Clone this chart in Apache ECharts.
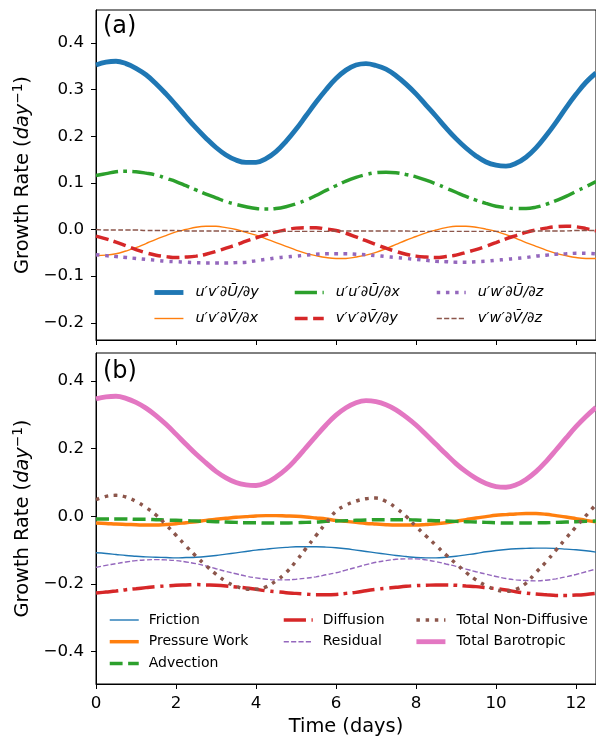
<!DOCTYPE html>
<html>
<head>
<meta charset="utf-8">
<script src="https://cdn.jsdelivr.net/npm/echarts@6/dist/echarts.min.js"></script>
<style>
html,body{margin:0;padding:0;background:#fff;}
#chart{width:596px;height:740px;}
</style>
</head>
<body>
<div id="chart"></div>
<script>
// ---------- data ----------
const times = [0,0.25,0.5,0.75,1,1.25,1.5,1.75,2,2.25,2.5,2.75,3,3.25,3.5,3.75,4,4.25,4.5,4.75,5,5.25,5.5,5.75,6,6.25,6.5,6.75,7,7.25,7.5,7.75,8,8.25,8.5,8.75,9,9.25,9.5,9.75,10,10.25,10.5,10.75,11,11.25,11.5,11.75,12,12.25,12.5];
const xTicks = [0,2,4,6,8,10,12];
const yTicksA = [-0.2,-0.1,0,0.1,0.2,0.3,0.4];
const yTicksB = [-0.4,-0.2,0,0.2,0.4];

// Panel (a)
const uvUy = [0.353,0.359,0.361,0.356,0.346,0.332,0.313,0.291,0.267,0.242,0.218,0.196,0.176,0.160,0.149,0.144,0.144,0.152,0.167,0.189,0.215,0.244,0.273,0.300,0.324,0.342,0.353,0.356,0.352,0.344,0.330,0.312,0.291,0.267,0.243,0.218,0.195,0.175,0.158,0.145,0.138,0.136,0.142,0.155,0.175,0.201,0.230,0.261,0.290,0.316,0.336];
const uvVx = [-0.056,-0.055,-0.052,-0.046,-0.039,-0.030,-0.021,-0.013,-0.005,0.000,0.005,0.007,0.007,0.004,0.000,-0.006,-0.012,-0.020,-0.028,-0.036,-0.044,-0.051,-0.056,-0.060,-0.062,-0.062,-0.059,-0.055,-0.049,-0.041,-0.032,-0.023,-0.015,-0.007,-0.001,0.004,0.007,0.007,0.005,0.001,-0.004,-0.011,-0.019,-0.028,-0.036,-0.044,-0.051,-0.056,-0.060,-0.062,-0.062];
const uuUx = [0.116,0.120,0.124,0.125,0.124,0.121,0.117,0.110,0.103,0.094,0.085,0.076,0.068,0.060,0.054,0.049,0.045,0.044,0.045,0.049,0.055,0.063,0.073,0.084,0.094,0.104,0.112,0.118,0.122,0.123,0.122,0.118,0.113,0.106,0.098,0.089,0.080,0.071,0.063,0.056,0.050,0.047,0.045,0.045,0.048,0.054,0.062,0.071,0.082,0.092,0.103];
const vvVy = [-0.014,-0.020,-0.027,-0.035,-0.043,-0.050,-0.055,-0.058,-0.060,-0.059,-0.057,-0.053,-0.047,-0.040,-0.033,-0.025,-0.018,-0.011,-0.005,-0.001,0.003,0.004,0.004,0.001,-0.002,-0.008,-0.016,-0.024,-0.032,-0.040,-0.047,-0.053,-0.057,-0.059,-0.060,-0.058,-0.055,-0.049,-0.043,-0.036,-0.028,-0.020,-0.013,-0.006,-0.001,0.003,0.006,0.007,0.006,0.002,-0.003];
const uwUz = [-0.054,-0.056,-0.058,-0.060,-0.062,-0.064,-0.066,-0.068,-0.069,-0.070,-0.071,-0.072,-0.072,-0.072,-0.071,-0.070,-0.067,-0.064,-0.061,-0.059,-0.057,-0.055,-0.053,-0.052,-0.052,-0.052,-0.053,-0.054,-0.056,-0.058,-0.060,-0.062,-0.064,-0.066,-0.068,-0.069,-0.070,-0.070,-0.069,-0.068,-0.066,-0.064,-0.062,-0.060,-0.057,-0.055,-0.053,-0.052,-0.051,-0.051,-0.052];
const vwVz = [0.000,-0.001,-0.001,-0.001,-0.001,-0.002,-0.002,-0.002,-0.002,-0.003,-0.003,-0.003,-0.003,-0.003,-0.004,-0.004,-0.004,-0.004,-0.004,-0.004,-0.004,-0.004,-0.004,-0.004,-0.003,-0.003,-0.003,-0.003,-0.003,-0.003,-0.003,-0.003,-0.004,-0.004,-0.004,-0.004,-0.004,-0.004,-0.004,-0.004,-0.004,-0.004,-0.004,-0.004,-0.003,-0.003,-0.003,-0.003,-0.002,-0.002,-0.002];

// Panel (b)
const friction = [-0.108,-0.110,-0.113,-0.116,-0.118,-0.120,-0.121,-0.122,-0.123,-0.122,-0.121,-0.119,-0.116,-0.112,-0.108,-0.104,-0.100,-0.097,-0.094,-0.092,-0.090,-0.090,-0.090,-0.091,-0.093,-0.096,-0.100,-0.104,-0.108,-0.112,-0.116,-0.119,-0.122,-0.123,-0.123,-0.121,-0.118,-0.114,-0.110,-0.105,-0.101,-0.098,-0.096,-0.095,-0.094,-0.094,-0.095,-0.097,-0.099,-0.102,-0.106];
const pressure = [-0.020,-0.021,-0.023,-0.024,-0.025,-0.026,-0.026,-0.024,-0.022,-0.019,-0.016,-0.012,-0.009,-0.006,-0.003,-0.001,0.001,0.002,0.002,0.001,0.000,-0.002,-0.005,-0.008,-0.012,-0.015,-0.018,-0.021,-0.023,-0.025,-0.026,-0.026,-0.026,-0.024,-0.022,-0.019,-0.015,-0.010,-0.005,-0.001,0.003,0.005,0.007,0.008,0.008,0.006,0.002,-0.002,-0.007,-0.012,-0.016];
const advection = [-0.008,-0.008,-0.008,-0.008,-0.009,-0.009,-0.010,-0.011,-0.012,-0.013,-0.014,-0.015,-0.016,-0.017,-0.018,-0.019,-0.019,-0.020,-0.020,-0.020,-0.019,-0.018,-0.017,-0.015,-0.014,-0.013,-0.012,-0.011,-0.010,-0.010,-0.010,-0.010,-0.011,-0.012,-0.013,-0.014,-0.015,-0.016,-0.017,-0.018,-0.019,-0.020,-0.020,-0.020,-0.019,-0.019,-0.018,-0.017,-0.016,-0.015,-0.014];
const diffusion = [-0.227,-0.224,-0.221,-0.217,-0.214,-0.211,-0.208,-0.206,-0.204,-0.203,-0.202,-0.203,-0.204,-0.206,-0.209,-0.212,-0.216,-0.220,-0.223,-0.226,-0.228,-0.230,-0.232,-0.232,-0.231,-0.228,-0.225,-0.220,-0.216,-0.213,-0.210,-0.207,-0.205,-0.204,-0.203,-0.203,-0.204,-0.206,-0.208,-0.211,-0.214,-0.218,-0.223,-0.227,-0.230,-0.232,-0.234,-0.234,-0.233,-0.231,-0.228];
const residual = [-0.151,-0.145,-0.140,-0.135,-0.131,-0.129,-0.128,-0.129,-0.131,-0.135,-0.140,-0.147,-0.155,-0.163,-0.170,-0.177,-0.182,-0.186,-0.188,-0.188,-0.186,-0.183,-0.179,-0.173,-0.167,-0.159,-0.151,-0.143,-0.136,-0.131,-0.127,-0.126,-0.126,-0.129,-0.134,-0.141,-0.148,-0.156,-0.164,-0.171,-0.178,-0.184,-0.188,-0.190,-0.191,-0.189,-0.185,-0.179,-0.172,-0.164,-0.156];
const nonDiffusive = [0.049,0.059,0.062,0.057,0.044,0.026,0.004,-0.025,-0.056,-0.088,-0.118,-0.146,-0.171,-0.193,-0.207,-0.215,-0.216,-0.209,-0.191,-0.167,-0.133,-0.095,-0.057,-0.020,0.015,0.033,0.045,0.052,0.054,0.044,0.025,0.000,-0.030,-0.058,-0.086,-0.114,-0.140,-0.166,-0.188,-0.205,-0.217,-0.222,-0.216,-0.198,-0.166,-0.135,-0.100,-0.065,-0.031,0.002,0.035];
const barotropic = [0.347,0.353,0.355,0.349,0.337,0.320,0.298,0.272,0.243,0.213,0.184,0.158,0.133,0.114,0.100,0.093,0.091,0.099,0.116,0.139,0.169,0.203,0.237,0.270,0.299,0.321,0.336,0.342,0.339,0.330,0.315,0.294,0.270,0.242,0.213,0.184,0.156,0.132,0.112,0.097,0.088,0.086,0.093,0.109,0.132,0.162,0.196,0.231,0.265,0.295,0.322];

// ---------- names ----------
const U = 'U\u0304', V = 'V\u0304';
const nA = ['u′v′∂' + U + '/∂y', 'u′v′∂' + V + '/∂x', 'u′u′∂' + U + '/∂x', 'v′v′∂' + V + '/∂y', 'u′w′∂' + U + '/∂z', 'v′w′∂' + V + '/∂z'];
const nB = ['Friction', 'Pressure Work', 'Advection', 'Diffusion', 'Residual', 'Total Non-Diffusive', 'Total Barotropic'];

// ---------- styling ----------
const FONT = 'DejaVu Sans';
const PT = 1.389;
const W = lw => lw * PT;
const DASH = lw => [3.7 * lw * PT, 1.6 * lw * PT];
const DASHDOT = lw => [6.4 * lw * PT, 1.6 * lw * PT, 1 * lw * PT, 1.6 * lw * PT];
const DOT = lw => [1 * lw * PT, 1.65 * lw * PT];
const TICK_FS = 16.7, NAME_FS = 19.4;

const styleOf = {};
function mk(name, vals, color, lw, type, axis) {
  styleOf[name] = { width: W(lw), type: type, color: color };
  return {
    name: name, type: 'line', xAxisIndex: axis, yAxisIndex: axis,
    data: times.map((t, i) => [t, vals[i]]),
    smooth: 0.4, symbol: 'none', showSymbol: false, silent: true,
    lineStyle: { color: color, width: W(lw), type: type, cap: 'butt' },
    itemStyle: { color: color },
    z: 2
  };
}

const series = [
  mk(nA[0], uvUy, '#1f77b4', 3.5, 'solid', 0),
  mk(nA[1], uvVx, '#ff7f0e', 1, 'solid', 0),
  mk(nA[2], uuUx, '#2ca02c', 2.5, DASHDOT(2.5), 0),
  mk(nA[3], vvVy, '#d62728', 2.5, DASH(2.5), 0),
  mk(nA[4], uwUz, '#9467bd', 2.5, DOT(2.5), 0),
  mk(nA[5], vwVz, '#8c564b', 1, DASH(1), 0),
  mk(nB[0], friction, '#1f77b4', 1, 'solid', 1),
  mk(nB[1], pressure, '#ff7f0e', 2.5, 'solid', 1),
  mk(nB[2], advection, '#2ca02c', 2.5, DASH(2.5), 1),
  mk(nB[3], diffusion, '#d62728', 2.5, DASHDOT(2.5), 1),
  mk(nB[4], residual, '#9467bd', 1, DASH(1), 1),
  mk(nB[5], nonDiffusive, '#8c564b', 2.5, DOT(2.5), 1),
  mk(nB[6], barotropic, '#e377c2', 3.5, 'solid', 1)
];

function fmt(v) {
  const r = Math.round(v * 10) / 10;
  if (Math.abs(r) < 1e-9) return '0.0';
  return (r < 0 ? '\u2212' : '') + Math.abs(r).toFixed(1);
}

const axisLineStyle = { show: true, onZero: false, lineStyle: { color: '#000', width: 1 } };
const tickStyle = (vals) => ({ show: true, inside: false, length: 5, lineStyle: { color: '#000', width: 1 }, customValues: vals });

function xAx(grid, showLabels) {
  return {
    type: 'value', gridIndex: grid, min: 0, max: 12.5,
    axisLine: axisLineStyle,
    axisTick: tickStyle(xTicks),
    axisLabel: { show: showLabels, customValues: xTicks, margin: 11, color: '#000', fontFamily: FONT, fontSize: TICK_FS, formatter: v => String(Math.round(v)) },
    splitLine: { show: false },
    name: showLabels ? 'Time (days)' : '',
    nameLocation: 'middle', nameGap: 33,
    nameTextStyle: { color: '#000', fontFamily: FONT, fontSize: NAME_FS }
  };
}
function yAx(grid, min, max, ticks) {
  return {
    type: 'value', gridIndex: grid, min: min, max: max,
    axisLine: axisLineStyle,
    axisTick: tickStyle(ticks),
    axisLabel: { show: true, customValues: ticks, margin: 12, color: '#000', fontFamily: FONT, fontSize: TICK_FS, formatter: fmt },
    splitLine: { show: false },
    name: '{r|Growth Rate (}{i|day}{s|\u22121}{r|)}',
    nameLocation: 'middle', nameGap: 60, nameRotate: 90,
    nameTextStyle: {
      color: '#000', fontFamily: FONT, fontSize: NAME_FS,
      rich: {
        r: { fontFamily: FONT, fontSize: NAME_FS, color: '#000', lineHeight: 24 },
        i: { fontFamily: FONT, fontSize: NAME_FS, fontStyle: 'italic', color: '#000', lineHeight: 24 },
        s: { fontFamily: FONT, fontSize: 13.6, color: '#000', lineHeight: 14, verticalAlign: 'top' }
      }
    }
  };
}

function leg(names, left, top, gap, italic, fs, pad) {
  return {
    data: names.map(n => ({ name: n, lineStyle: { width: styleOf[n].width, type: styleOf[n].type, color: styleOf[n].color, cap: 'butt' } })),
    orient: 'vertical', left: left, top: top, padding: 0,
    itemWidth: 29, itemHeight: 14, itemGap: gap, selectedMode: false,
    itemStyle: { opacity: 0, borderWidth: 0 },
    textStyle: { fontFamily: FONT, fontSize: fs, color: '#000', fontStyle: italic ? 'italic' : 'normal', lineHeight: 14, padding: [0, 0, 0, pad] }
  };
}

const option = {
  animation: false,
  backgroundColor: '#fff',
  title: [
    { text: '(a)', left: 103, top: 15, padding: 0, textStyle: { fontFamily: FONT, fontSize: 24, fontWeight: 'normal', color: '#000' } },
    { text: '(b)', left: 103, top: 360, padding: 0, textStyle: { fontFamily: FONT, fontSize: 24, fontWeight: 'normal', color: '#000' } }
  ],
  grid: [
    { left: 96, top: 10, width: 502, height: 330, show: true, borderColor: '#000', borderWidth: 1, backgroundColor: 'transparent', containLabel: false },
    { left: 96, top: 353, width: 502, height: 331, show: true, borderColor: '#000', borderWidth: 1, backgroundColor: 'transparent', containLabel: false }
  ],
  xAxis: [xAx(0, false), xAx(1, true)],
  yAxis: [yAx(0, -0.237, 0.471, yTicksA), yAx(1, -0.496, 0.483, yTicksB)],
  legend: [
    leg([nA[0], nA[1]], 152, 285, 11, true, 14.5, 7),
    leg([nA[2], nA[3]], 293, 285, 11, true, 14.5, 7),
    leg([nA[4], nA[5]], 435, 285, 11, true, 14.5, 7),
    leg([nB[0], nB[1], nB[2]], 108, 613, 7.7, false, 14, 5),
    leg([nB[3], nB[4]], 282, 613, 7.7, false, 14, 5),
    leg([nB[5], nB[6]], 414, 613, 7.7, false, 14, 6)
  ],
  series: series
};

const chart = echarts.init(document.getElementById('chart'), null, { renderer: 'canvas' });
chart.setOption(option);
</script>
</body>
</html>
